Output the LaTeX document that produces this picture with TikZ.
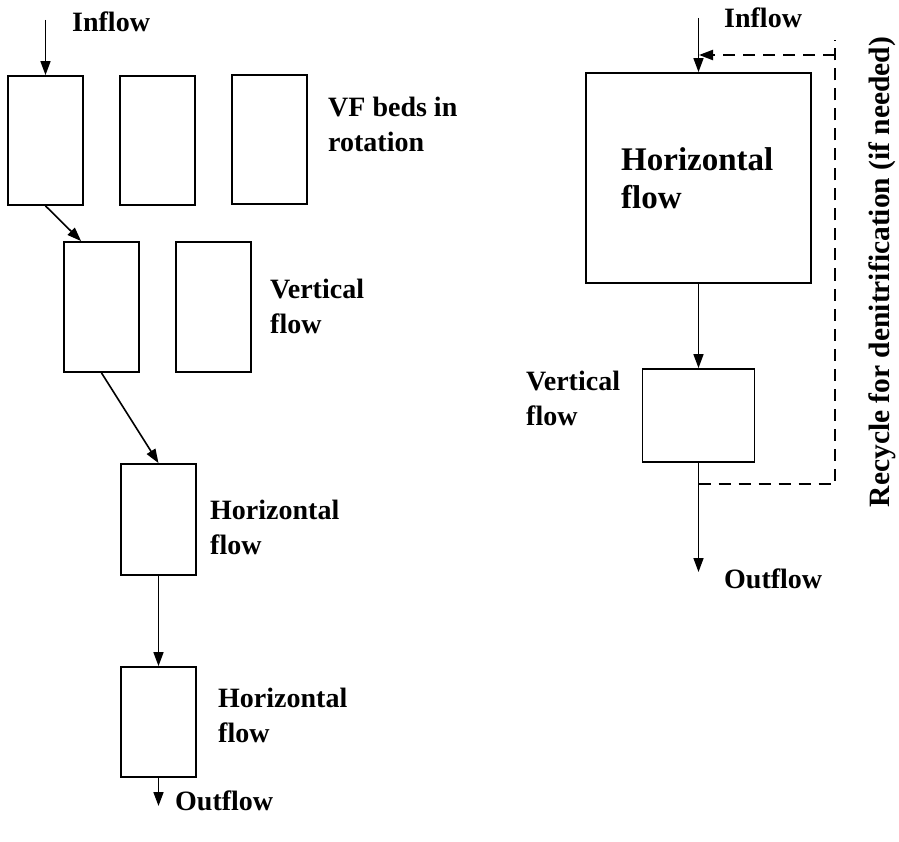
\documentclass[tikz,border=0pt]{standalone}
\usepackage{fontspec}
\setmainfont{Liberation Serif}
\usepackage{tikz}
\usetikzlibrary{arrows.meta}
\usetikzlibrary{positioning}

\begin{document}
\begin{tikzpicture}[x=1pt, y=-1pt,
        bed/.style={draw, line width=1.8pt, minimum width=75pt, minimum height=#1, inner sep=0pt},
        lbl/.style={font=\fontsize{28}{35}\selectfont\bfseries, align=left, inner sep=0pt, anchor=west},
        flow/.style={line width=1.6pt, -{Triangle[length=14pt,width=10pt]}},
        recycle/.style={line width=2.2pt, dash pattern=on 12pt off 8pt}]
        \useasboundingbox (0,0) rectangle (899,842);

        % Left: VF beds in rotation
        \node[bed=129pt] (vfa) at (45.5,140.5) {};
        \node[bed=129pt] (vfb) at (157.5,140.5) {};
        \node[bed=129pt] (vfc) at (269.5,139.5) {};
        \node[lbl] (vflbl) at (328,124) {VF beds in\\rotation};

        \coordinate (inl) at (45.5,20);
        \node[lbl] (inltxt) at (72,22) {Inflow};
        \draw[flow] (inl) -- (vfa.north);

        % Left: vertical flow stage
        \node[bed=130pt] (vta) at (101.5,307) {};
        \node[bed=130pt] (vtb) at (213.5,307) {};
        \node[lbl] (vtlbl) at (270,306) {Vertical\\flow};
        \draw[flow] (vfa.south) -- ([xshift=18pt]vta.north west);

        % Left: horizontal flow stages
        \node[bed=111pt] (hza) at (158.5,519.5) {};
        \node[lbl] (hzalbl) at (210,527) {Horizontal\\flow};
        \draw[flow] (vta.south) -- (hza.north);

        \node[bed=110pt] (hzb) at (158.5,722) {};
        \node[lbl] (hzblbl) at (218,715) {Horizontal\\flow};
        \draw[flow] (hza.south) -- (hzb.north);

        \coordinate (outl) at (158.5,806);
        \node[lbl] (outltxt) at (175,801) {Outflow};
        \draw[flow] (hzb.south) -- (outl);

        % Right: horizontal then vertical
        \node[draw, line width=1.8pt, minimum width=225pt, minimum height=210pt, inner sep=0pt] (hzbig) at (698.5,178) {};
        \node[lbl, font=\fontsize{33}{38}\selectfont\bfseries] (hzbiglbl) at (621,178) {Horizontal\\flow};

        \coordinate (inr) at (698.5,18);
        \node[lbl] (inrtxt) at (724,18) {Inflow};
        \draw[flow] (inr) -- (hzbig.north);

        \node[draw, line width=1.8pt, minimum width=112pt, minimum height=93pt, inner sep=0pt] (vtsm) at (698.5,415.5) {};
        \node[lbl] (vtsmlbl) at (526,398) {Vertical\\flow};
        \draw[flow] (hzbig.south) -- (vtsm.north);

        \coordinate (outr) at (698.5,572);
        \node[lbl] (outrtxt) at (724,579) {Outflow};
        \draw[flow] (vtsm.south) -- (outr);

        % Recycle loop
        \coordinate (tap) at (698.5,484);
        \coordinate (rca) at (835,484);
        \coordinate (rcb) at (835,40);
        \coordinate (rcc) at (835,55);
        \coordinate (join) at (699,55);
        \draw[recycle] (tap) -- (rca) -- (rcb);
        \draw[recycle, -{Triangle[length=14pt,width=10pt]}] (rcc) -- (join);
        \node[lbl, anchor=center, rotate=90, font=\fontsize{29.5}{35}\selectfont\bfseries] (rclbl) at (882,272) {Recycle for denitrification (if needed)};
\end{tikzpicture}
\end{document}
